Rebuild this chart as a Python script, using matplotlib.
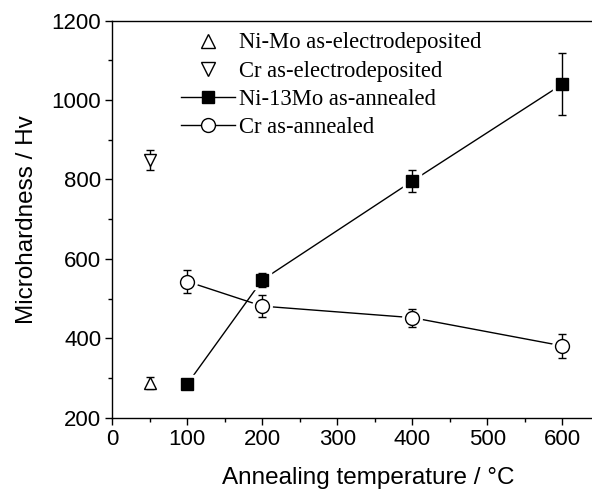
import matplotlib
matplotlib.use("Agg")
import matplotlib.pyplot as plt
from matplotlib.ticker import MultipleLocator
from matplotlib.lines import Line2D

# Data
nimo_ed_x = [50]
nimo_ed_y = [287]
nimo_ed_err = [15]

cr_ed_x = [50]
cr_ed_y = [848]
cr_ed_err = [25]

nimo_an_x = [100, 200, 400, 600]
nimo_an_y = [285, 547, 796, 1040]
nimo_an_err = [0, 18, 27, 78]

cr_an_x = [100, 200, 400, 600]
cr_an_y = [543, 481, 452, 381]
cr_an_err = [28, 27, 23, 30]

labels = ["Ni-Mo as-electrodeposited", "Cr as-electrodeposited",
          "Ni-13Mo as-annealed", "Cr as-annealed"]

plt.rcParams['font.family'] = ['Liberation Sans', 'DejaVu Sans']

fig = plt.figure(figsize=(5.92, 4.92), dpi=100)
ax = fig.add_axes([0.1897, 0.151, 0.8235, 0.807])

ms = 9
ekw = dict(ecolor='black', elinewidth=1, capsize=3, capthick=1, fmt='none')

# connecting lines
ax.plot(nimo_an_x, nimo_an_y, '-', color='black', lw=1, zorder=1)
ax.plot(cr_an_x, cr_an_y, '-', color='black', lw=1, zorder=1)
# white halos to give gaps between lines and markers
ax.plot(nimo_an_x, nimo_an_y, 's', ms=ms + 4, mfc='white', mec='white', zorder=2)
ax.plot(cr_an_x, cr_an_y, 'o', ms=ms + 5, mfc='white', mec='white', zorder=2)

# error bars
ax.errorbar(nimo_ed_x, nimo_ed_y, yerr=nimo_ed_err, zorder=3, **ekw)
ax.errorbar(cr_ed_x, cr_ed_y, yerr=cr_ed_err, zorder=3, **ekw)
ax.errorbar(nimo_an_x, nimo_an_y, yerr=nimo_an_err, zorder=3, **ekw)
ax.errorbar(cr_an_x, cr_an_y, yerr=cr_an_err, zorder=3, **ekw)

# markers
ax.plot(nimo_ed_x, nimo_ed_y, '^', ms=ms, mfc='white', mec='black', mew=1, zorder=4)
ax.plot(cr_ed_x, cr_ed_y, 'v', ms=ms, mfc='white', mec='black', mew=1, zorder=4)
ax.plot(nimo_an_x, nimo_an_y, 's', ms=ms, mfc='black', mec='black', mew=1, zorder=4)
ax.plot(cr_an_x, cr_an_y, 'o', ms=ms + 1, mfc='white', mec='black', mew=1, zorder=4)

ax.set_xlim(0, 650)
ax.set_ylim(200, 1200)
ax.xaxis.set_major_locator(MultipleLocator(100))
ax.xaxis.set_minor_locator(MultipleLocator(50))
ax.yaxis.set_major_locator(MultipleLocator(200))
ax.yaxis.set_minor_locator(MultipleLocator(100))
ax.tick_params(which='both', direction='out', top=False, right=False,
               labelsize=16, width=1, colors='black')
ax.tick_params(which='major', length=5, pad=3)
ax.tick_params(which='minor', length=3)
for s in ax.spines.values():
    s.set_linewidth(1)

ax.set_xlabel("Annealing temperature / °C", fontsize=17.5)
ax.xaxis.set_label_coords(0.5255, -0.125)
ax.set_ylabel("Microhardness / Hv", fontsize=17.5)
ax.yaxis.set_label_coords(-0.152, 0.498)

handles = [
    Line2D([], [], ls='none', marker='^', ms=10, mfc='white', mec='black', mew=1),
    Line2D([], [], ls='none', marker='v', ms=10, mfc='white', mec='black', mew=1),
    Line2D([], [], ls='-', color='black', lw=1, marker='s', ms=9, mfc='black', mec='black'),
    Line2D([], [], ls='-', color='black', lw=1, marker='o', ms=10, mfc='white', mec='black'),
]
leg = ax.legend(handles, labels, loc='upper left', bbox_to_anchor=(0.122, 0.993),
                frameon=False,
                prop={'family': 'Liberation Serif', 'size': 16.3},
                handlelength=2.4, labelspacing=0.31, handletextpad=0.15,
                borderaxespad=0)

fig.savefig("out.png", dpi=100)
